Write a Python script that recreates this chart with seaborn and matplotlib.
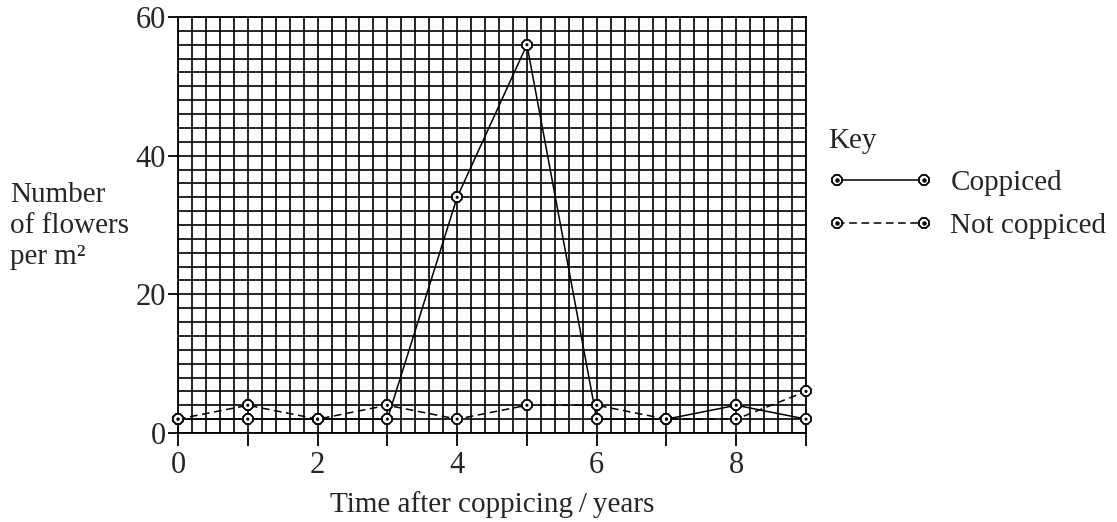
import numpy as np
import pandas as pd
import matplotlib; matplotlib.use("Agg")
import matplotlib.pyplot as plt
from matplotlib.lines import Line2D
from matplotlib.legend_handler import HandlerTuple
import seaborn as sns

# ── data ─────────────────────────────────────────────────────────────────
years        = [0, 1, 2, 3, 4, 5, 6, 7, 8, 9]
coppiced     = [2, 2, 2, 2, 34, 56, 2, 2, 4, 2]
not_coppiced = [2, 4, 2, 4, 2, 4, 4, 2, 2, 6]
series_names = ["Coppiced", "Not coppiced"]
x_tick_vals  = [0, 1, 2, 3, 4, 5, 6, 7, 8, 9]
x_tick_lbls  = ["0", "", "2", "", "4", "", "6", "", "8", ""]
y_tick_vals  = [0, 20, 40, 60]

df = pd.DataFrame({
    "year": years * 2,
    "flowers": coppiced + not_coppiced,
    "site": [series_names[0]] * len(years) + [series_names[1]] * len(years),
})

sns.set_theme(style="white")
plt.rcParams["font.family"] = ["Liberation Serif", "DejaVu Serif"]

fig = plt.figure(figsize=(11.17, 5.22), dpi=100)
ax = fig.add_axes([0.1594, 0.1705, 0.5622, 0.797])

# ── graph-paper grid ─────────────────────────────────────────────────────
ax.set_xlim(0, 9)
ax.set_ylim(0, 60)
ax.set_xticks(np.arange(0, 9.001, 0.2), minor=True)
ax.set_yticks(np.arange(0, 60.001, 2), minor=True)
ax.grid(which="both", color="black", lw=1.2, zorder=1)
ax.set_axisbelow(True)
for sp in ax.spines.values():
    sp.set_color("black")
    sp.set_linewidth(1.3)

# ── the two series ───────────────────────────────────────────────────────
mk = dict(markersize=8.5, markerfacecolor="white", markeredgecolor="black",
          markeredgewidth=1.3)
sns.lineplot(data=df, x="year", y="flowers", style="site", color="black",
             dashes={"Coppiced": "", "Not coppiced": (5, 3)},
             markers={"Coppiced": "8", "Not coppiced": "8"},
             lw=1.1, legend=False, ax=ax, zorder=3, **mk)
sns.scatterplot(data=df, x="year", y="flowers", color="black", s=5,
                edgecolor="none", legend=False, ax=ax, zorder=4, clip_on=False)
for ln in ax.lines:
    ln.set_clip_on(False)

# ── ticks and labels ─────────────────────────────────────────────────────
ax.set_xticks(x_tick_vals)
ax.set_xticklabels(x_tick_lbls)
ax.set_yticks(y_tick_vals)
ax.tick_params(axis="x", which="major", direction="out", length=9, width=1.3,
               color="black", labelsize=22, pad=4, bottom=True)
ax.tick_params(axis="y", which="major", direction="out", length=7, width=1.3,
               color="black", labelsize=22, pad=2, left=True)
ax.tick_params(which="minor", length=0)
ax.set_xlabel("Time after coppicing\u2009/\u2009years", fontsize=21, labelpad=8)
ax.set_ylabel("")

fig.text(0.009, 0.567, "Number\nof flowers\nper m²", fontsize=21,
         ha="left", va="center", linespacing=1.27)

# ── key ──────────────────────────────────────────────────────────────────
def key_handle(dash):
    line = Line2D([], [], color="black", lw=1.1, marker="8", **mk)
    if dash:
        line.set_dashes(dash)
    dot = Line2D([], [], ls="none", marker="o", markersize=2.2, color="black")
    return (line, dot)

leg = fig.legend([key_handle(None), key_handle((5, 3))], series_names,
                 handler_map={tuple: HandlerTuple(ndivide=1, pad=0)},
                 numpoints=2, title="Key", title_fontsize=21, fontsize=21,
                 alignment="left", frameon=False, loc="upper left",
                 bbox_to_anchor=(0.728, 0.783), borderpad=0,
                 handlelength=3.6, handletextpad=0.6, labelspacing=0.55)

fig.savefig("out.png", dpi=100)
